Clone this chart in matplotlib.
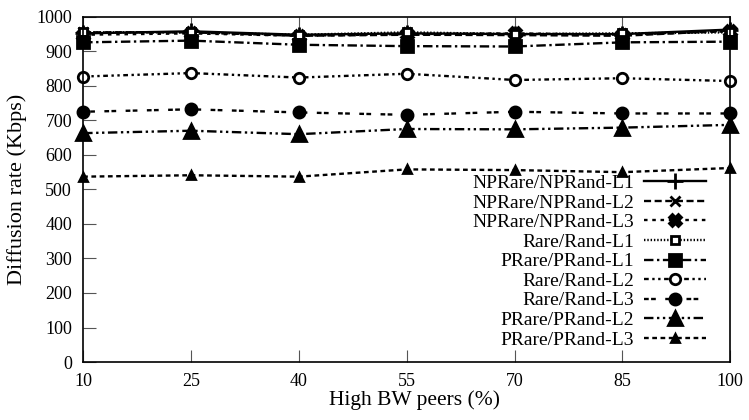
import matplotlib
matplotlib.use("Agg")
import matplotlib.pyplot as plt

plt.rcParams['font.family'] = ['Liberation Serif', 'DejaVu Serif']

# x values: percentage of high bandwidth peers
peers = [10, 25, 40, 55, 70, 85, 100]

# diffusion rate (Kbps) per scheme
np_l1 = [952, 958, 948, 952, 950, 950, 963]
np_l2 = [955, 955, 945, 948, 947, 945, 960]
np_l3 = [948, 952, 945, 950, 952, 948, 958]
rare_l1 = [955, 955, 948, 955, 950, 952, 955]
prare_l1 = [926, 931, 919, 915, 914, 926, 928]
rare_l2 = [827, 837, 824, 835, 817, 822, 814]
rare_l3 = [725, 732, 723, 716, 725, 720, 720]
prare_l2 = [663, 670, 660, 675, 674, 679, 687]
prare_l3 = [537, 541, 537, 558, 556, 550, 562]

labels = ['NPRare/NPRand-L1', 'NPRare/NPRand-L2', 'NPRare/NPRand-L3',
          'Rare/Rand-L1', 'PRare/PRand-L1', 'Rare/Rand-L2',
          'Rare/Rand-L3', 'PRare/PRand-L2', 'PRare/PRand-L3']
series = [np_l1, np_l2, np_l3, rare_l1, prare_l1, rare_l2, rare_l3, prare_l2, prare_l3]

# gnuplot-ish styles: (linestyle, marker, markersize, fill)
styles = [
    ('-', '+', 11, 'full'),
    ((0, (3, 1.5)), 'x', 7, 'full'),
    ((0, (1.5, 2)), 'X', 8, 'full'),
    ((0, (0.6, 0.8)), 's', 6, 'none'),
    ((0, (4, 1.5, 1, 1.5)), 's', 9, 'full'),
    ((0, (2, 1.5, 1, 1.5, 1, 1.5)), 'o', 7.5, 'none'),
    ((0, (2, 1, 2, 4)), 'o', 8, 'full'),
    ((0, (4, 1.5, 1, 1.5, 1, 1.5)), '^', 10, 'full'),
    ((0, (2, 1.5)), '^', 6, 'full'),
]

fig = plt.figure(figsize=(7.49, 4.2), dpi=100)
ax = fig.add_axes([0.111, 0.138, 0.864, 0.822])

for vals, lab, (ls, mk, ms, fill) in zip(series, labels, styles):
    face = 'black' if fill == 'full' else 'white'
    ax.plot(peers, vals, color='black', linestyle=ls, linewidth=1.7,
            marker=mk, markersize=ms, markerfacecolor=face,
            markeredgecolor='black', markeredgewidth=2.0, label=lab,
            clip_on=False)

ax.set_xlim(10, 100)
ax.set_ylim(0, 1000)
ax.set_xticks(peers)
ax.set_yticks(range(0, 1001, 100))
ax.tick_params(axis='both', direction='in', length=9, width=0.8,
               labelsize=13, pad=8, color='#555555')
ax.tick_params(axis='x', top=True)
ax.tick_params(axis='y', right=False)
for sp in ax.spines.values():
    sp.set_linewidth(1.2)

ax.set_xlabel('High BW peers (%)', fontsize=15.5)
ax.set_ylabel('Diffusion rate (Kbps)', fontsize=16)
ax.xaxis.set_label_coords(0.512, -0.083)
ax.yaxis.set_label_coords(-0.087, 0.5)

ax.legend(loc='lower right', bbox_to_anchor=(0.987, -0.006), frameon=False,
          markerfirst=False, fontsize=14, labelspacing=0.1,
          handlelength=3.2, handletextpad=0.5, borderpad=0.3)

fig.savefig('out.png', dpi=100)
